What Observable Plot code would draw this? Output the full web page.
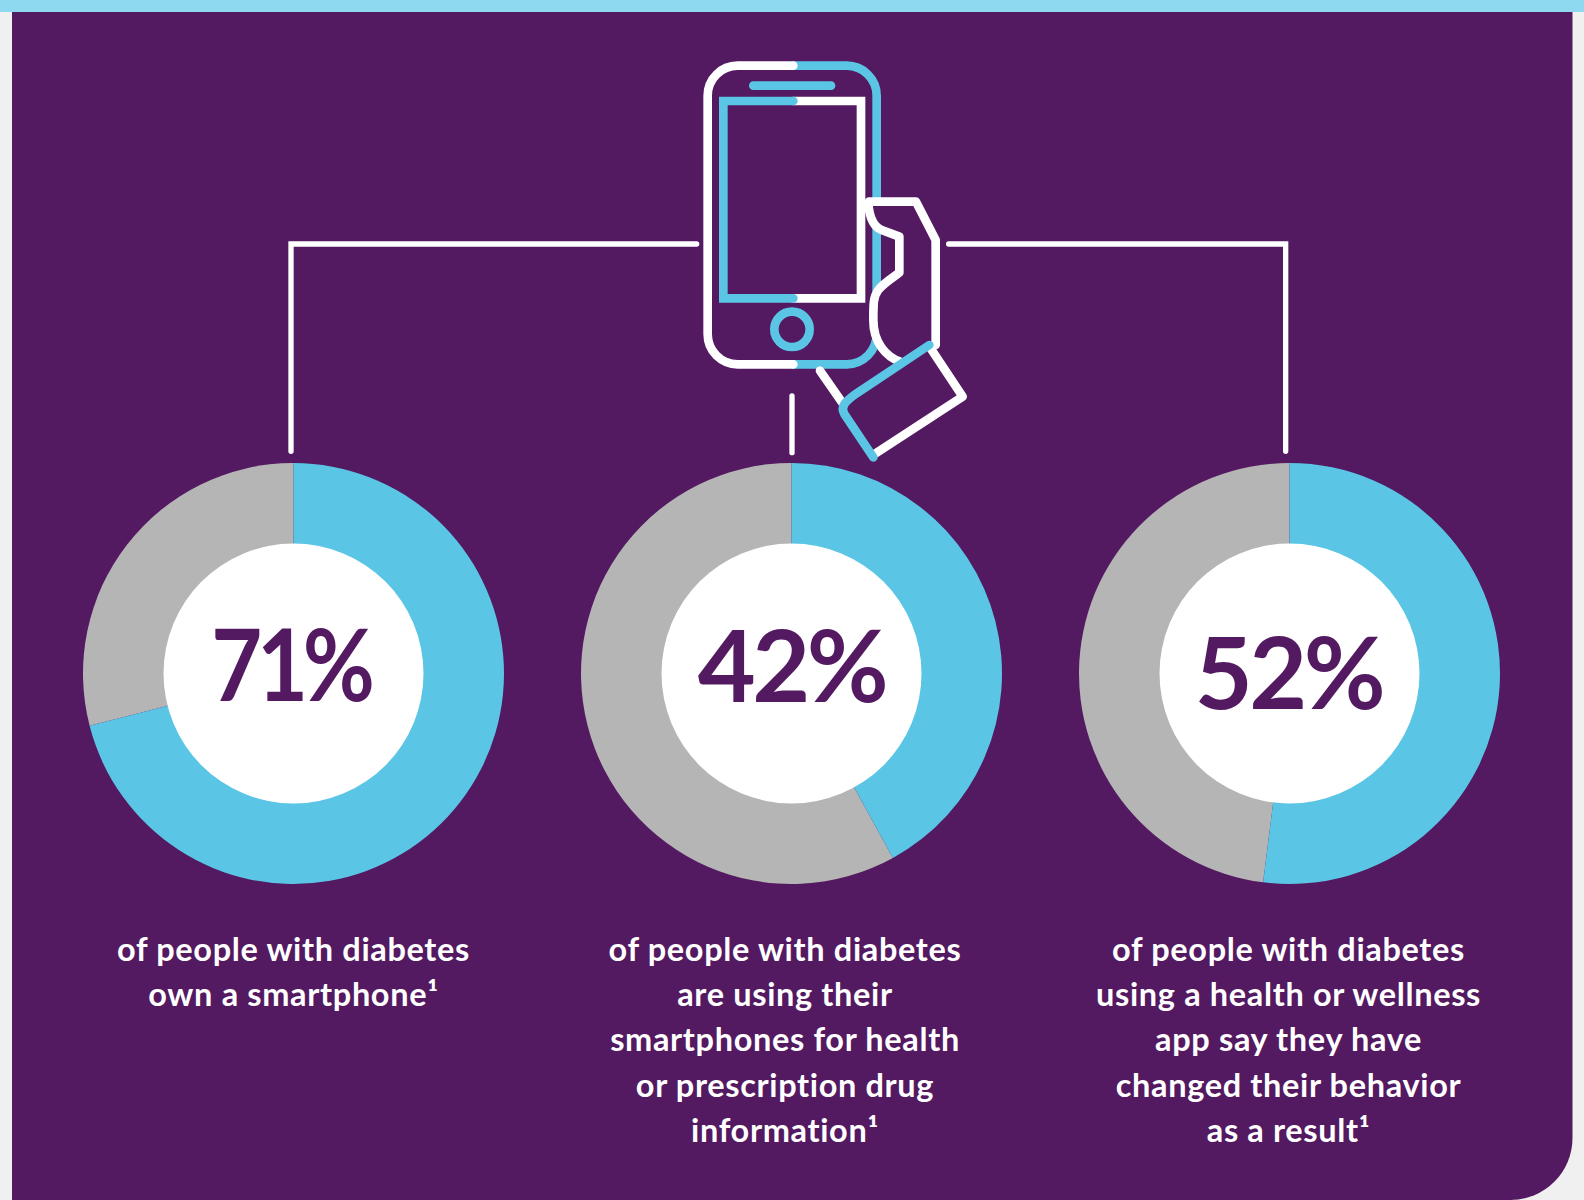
<!DOCTYPE html>
<html>
<head>
<meta charset="utf-8">
<script src="https://cdn.jsdelivr.net/npm/d3@7"></script>
<script src="https://cdn.jsdelivr.net/npm/@observablehq/plot@0.6"></script>
<style>
html,body{margin:0;padding:0;background:#f0f0f0;overflow:hidden}
svg{display:block}
g[font-size="32.5"] text{letter-spacing:0.02em}
</style>
</head>
<body>
<div id="chart"></div>
<script>
const groups = ["own", "use", "changed"];
const shares = [71, 42, 52];
const bigLabels = ["71%", "42%", "52%"];
const captions = [
  ["of people with diabetes", "own a smartphone¹"],
  ["of people with diabetes", "are using their", "smartphones for health", "or prescription drug", "information¹"],
  ["of people with diabetes", "using a health or wellness", "app say they have", "changed their behavior", "as a result¹"]
];

const PURPLE = "#531961", BLUE = "#5bc5e5", GREY = "#b5b5b5", SKY = "#8ed8f0";
const OUTER = 210.5, INNER = 130, CY = 673;
const bigBaseline = [700.5, 701.5, 708.5];
const captionShift = [0, -6.5, -1];
const bigSpacing = ["-0.06em", "-0.035em", "-0.035em"];
const bigShift = [-3, 0, -1];
const bigSqueeze = [0.88, 1, 1];

const TAU = Math.PI * 2;
const arcSymbol = (from, to) => ({
  draw(context, size) {
    d3.arc().context(context)({
      innerRadius: 0,
      outerRadius: Math.sqrt(size / Math.PI),
      startAngle: from * TAU / 100,
      endAngle: to * TAU / 100
    });
    context.closePath();
  }
});

const sliceMarks = groups.flatMap((g, i) => [
  Plot.dot([g], {x: d => d, y: () => CY, r: OUTER, fill: GREY, symbol: arcSymbol(shares[i], 100)}),
  Plot.dot([g], {x: d => d, y: () => CY, r: OUTER, fill: BLUE, symbol: arcSymbol(0, shares[i])})
]);

const captionRows = groups.flatMap((g, i) =>
  captions[i].map((line, k) => ({g, line, k, i})));

function backdrop() {
  const g = d3.create("svg:g");
  g.append("path").attr("fill", PURPLE)
    .attr("d", "M12 0H1572.5V1138A62 62 0 0 1 1510.5 1200H12Z");
  g.append("rect").attr("width", 1584).attr("height", 12).attr("fill", SKY);
  return g.node();
}

function phoneIcon() {
  const g = d3.create("svg:g")
    .attr("transform", "translate(660,40) scale(0.33333)")
    .attr("fill", "none").attr("stroke-linecap", "round").attr("stroke-linejoin", "round");
  const p = (d, stroke, w = 26, fill = "none", join = "round") =>
    g.append("path").attr("d", d).attr("stroke", stroke).attr("stroke-width", w)
      .attr("fill", fill).attr("stroke-linejoin", join);
  // connector lines
  p("M110 612H-1107V1234", "#fff", 16, "none", "miter");
  p("M396 1068V1238", "#fff", 16);
  p("M866 612H1877V1234", "#fff", 16, "none", "miter");
  // phone body
  p("M400 77H560A90 90 0 0 1 650 167V883A90 90 0 0 1 560 973H400", BLUE);
  p("M400 77H233A90 90 0 0 0 143 167V883A90 90 0 0 0 233 973H400", "#fff");
  // speaker and home button
  p("M280 137H513", BLUE);
  g.append("circle").attr("cx", 396).attr("cy", 868).attr("r", 53)
    .attr("stroke", BLUE).attr("stroke-width", 26);
  // screen
  p("M400 183H603V775H400", "#fff", 26, "none", "miter");
  p("M400 183H190V775H400", BLUE, 26, "none", "miter");
  // hand
  p("M625 485H768L827 600V915L720 965C670 950 640 910 640 840C640 790 640 770 655 750C670 730 700 712 718 698V590L665 570C640 560 627 530 625 485Z", "none", 0, PURPLE);
  p("M627 485H768L827 600V915", "#fff");
  p("M625 490C628 530 640 560 665 570L718 590V698C700 712 670 730 655 750C640 770 640 790 640 840C640 910 680 950 720 965", "#fff");
  // arm and cuff
  p("M480 992L548 1090", "#fff");
  p("M812 925L908 1070L640 1245", "#fff");
  p("M808 915L590 1060C555 1085 540 1100 553 1122L640 1252", BLUE);
  return g.node();
}

const chart = Plot.plot({
  width: 1584,
  height: 1200,
  margin: 0,
  style: {background: "#f0f0f0", fontFamily: "Lato"},
  x: {type: "point", domain: groups, range: [293, 1289], padding: 0, axis: null},
  y: {type: "linear", domain: [0, 1200], range: [0, 1200], axis: null},
  marks: [
    backdrop,
    phoneIcon,
    ...sliceMarks,
    Plot.dot(groups, {x: d => d, y: () => CY, r: INNER, fill: "#fff"}),
    Plot.text(groups, {
      x: d => d,
      y: (d, i) => bigBaseline[i],
      text: (d, i) => bigLabels[i],
      lineAnchor: "bottom",
      fontFamily: "Lato", fontWeight: 700, fontSize: 100, fill: PURPLE
    }),
    Plot.text(captionRows, {
      x: "g",
      y: d => 960 + d.k * 45.4,
      text: "line",
      lineAnchor: "bottom",
      fontFamily: "Lato", fontWeight: 700, fontSize: 32.5, fill: "#fff"
    })
  ]
});
document.getElementById("chart").append(chart);
d3.select(chart).selectAll('g[font-size="100"] text')
  .style("letter-spacing", function () { return bigSpacing[this.__data__]; })
  .attr("transform", function () {
    const i = this.__data__;
    const t = this.getAttribute("transform") || "";
    return t + ` translate(${bigShift[i]},0) scale(${bigSqueeze[i]},1)`;
  });
d3.select(chart).selectAll('g[font-size="32.5"] text')
  .attr("transform", function () {
    const row = captionRows[this.__data__];
    const t = this.getAttribute("transform") || "";
    return row && captionShift[row.i] ? t + ` translate(${captionShift[row.i]},0)` : t;
  });
</script>
</body>
</html>
